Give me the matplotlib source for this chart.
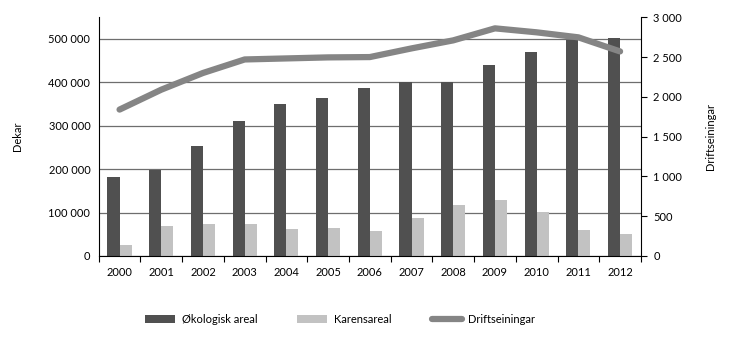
import numpy as np
import matplotlib.pyplot as plt
from matplotlib.ticker import FuncFormatter

plt.rcParams['font.family'] = ['Lato', 'DejaVu Sans']

years = ['2000', '2001', '2002', '2003', '2004', '2005', '2006',
         '2007', '2008', '2009', '2010', '2011', '2012']
okologisk = [181000, 198000, 253000, 311000, 350000, 365000, 388000,
             400000, 402000, 440000, 470000, 498000, 502000]
karens = [25000, 69000, 73000, 74000, 63000, 65000, 57000,
          88000, 117000, 128000, 102000, 60000, 51000]
drift = [1840, 2090, 2300, 2470, 2483, 2496, 2500,
         2609, 2710, 2861, 2811, 2748, 2571]

x = np.arange(len(years))
w = 0.29

fig = plt.figure(figsize=(7.3, 3.58), dpi=100)
ax1 = fig.add_axes([0.1352, 0.285, 0.7428, 0.6667])
ax1.set_axisbelow(True)
ax1.yaxis.grid(True, color='#6e6e6e', linewidth=0.9)
b1 = ax1.bar(x - w/2, okologisk, w, color='#505050', label='Økologisk areal')
b2 = ax1.bar(x + w/2, karens, w, color='#c2c2c2', label='Karensareal')
ax1.set_xlim(-0.5, len(years) - 0.5)
ax1.set_ylim(0, 550000)
ax1.set_yticks(np.arange(0, 500001, 100000))
fmt = FuncFormatter(lambda v, p: f'{int(v):,}'.replace(',', ' '))
ax1.yaxis.set_major_formatter(fmt)
ax1.set_xticks(x)
ax1.set_xticklabels(years)
ax1.set_xticks(np.arange(-0.5, len(years)), minor=True)
ax1.tick_params(axis='x', which='major', length=0, labelsize=8, pad=8)
ax1.tick_params(axis='x', which='minor', length=4, width=0.8, direction='out')
ax1.tick_params(axis='y', length=0, labelsize=8, pad=6)
ax1.set_ylabel('Dekar', fontsize=8, labelpad=18)
for s in ['top', 'right']:
    ax1.spines[s].set_visible(False)
ax1.spines['left'].set_linewidth(0.8)
ax1.spines['bottom'].set_linewidth(0.8)

ax2 = ax1.twinx()
l1, = ax2.plot(x, drift, color='#858585', linewidth=4.5, solid_capstyle='round',
               label='Driftseiningar')
ax2.set_ylim(0, 3000)
ax2.set_yticks(np.arange(0, 3001, 500))
ax2.yaxis.set_major_formatter(fmt)
ax2.tick_params(axis='y', length=4, width=0.8, direction='out', labelsize=8, pad=5)
ax2.set_ylabel('Driftseiningar', fontsize=8, labelpad=16)
for s in ['top', 'left', 'bottom']:
    ax2.spines[s].set_visible(False)
ax2.spines['right'].set_linewidth(0.8)

fig.legend(handles=[b1, b2, l1], loc='center', bbox_to_anchor=(0.466, 0.107),
           ncol=3, frameon=False, fontsize=8, columnspacing=3.6,
           handlelength=2.7, handleheight=0.75, handletextpad=0.6)

fig.savefig('out.png', dpi=100)
